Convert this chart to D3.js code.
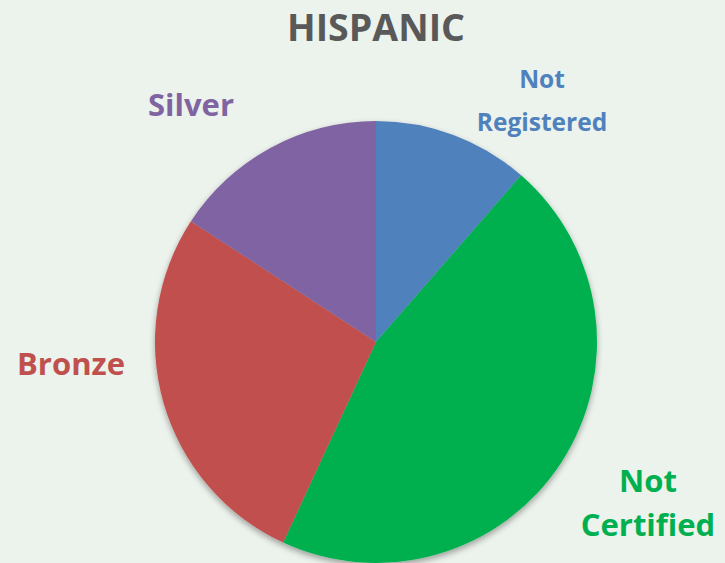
<!DOCTYPE html>
<html><head><meta charset="utf-8">
<script src="https://cdn.jsdelivr.net/npm/d3@7"></script>
<style>html,body{margin:0;padding:0;background:#ECF2EC;}svg{display:block;}</style>
</head><body>
<script>
const categories = ["Not Registered", "Not Certified", "Bronze", "Silver"];
const values = [11.4, 45.5, 27.3, 15.8];
const colors = ["#4F81BD", "#00B050", "#C0504D", "#8064A2"];
const title = "HISPANIC";

const W = 725, H = 563;
const svg = d3.select("body").append("svg").attr("width", W).attr("height", H);
svg.append("rect").attr("width", W).attr("height", H).attr("fill", "#ECF2EC");

const defs = svg.append("defs");
const f = defs.append("filter").attr("id","sh").attr("x","-20%").attr("y","-20%").attr("width","140%").attr("height","140%");
f.append("feGaussianBlur").attr("in","SourceAlpha").attr("stdDeviation",3);
f.append("feOffset").attr("dx",0).attr("dy",3).attr("result","b");
f.append("feComponentTransfer").append("feFuncA").attr("type","linear").attr("slope",0.35);
const m = f.append("feMerge"); m.append("feMergeNode"); m.append("feMergeNode").attr("in","SourceGraphic");

const cx = 376, cy = 342, r = 221;
const pie = d3.pie().sort(null).value(d => d)(values);
const arc = d3.arc().innerRadius(0).outerRadius(r);
const g = svg.append("g").attr("transform", `translate(${cx},${cy})`).attr("filter","url(#sh)");
g.selectAll("path").data(pie).join("path").attr("d", arc).attr("fill", (d,i) => colors[i]);

svg.append("text").attr("x", 376).attr("y", 41).attr("text-anchor","middle")
  .attr("font-family","'Open Sans', sans-serif").attr("font-weight","bold").attr("font-size",37.5)
  .attr("fill","#595959").text(title);

const labels = [
  {lines:["Not","Registered"], x:542, y:[88,131], size:24.5},
  {lines:["Not","Certified"], x:648, y:[492,536], size:31},
  {lines:["Bronze"], x:71, y:[375], size:31},
  {lines:["Silver"], x:191, y:[116], size:31}
];
labels.forEach((l,i) => {
  l.lines.forEach((t,j) => {
    svg.append("text").attr("x", l.x).attr("y", l.y[j]).attr("text-anchor","middle")
      .attr("font-family","'Open Sans', sans-serif").attr("font-weight","bold").attr("font-size", l.size)
      .attr("fill", colors[i]).text(t);
  });
});
</script>
</body></html>
